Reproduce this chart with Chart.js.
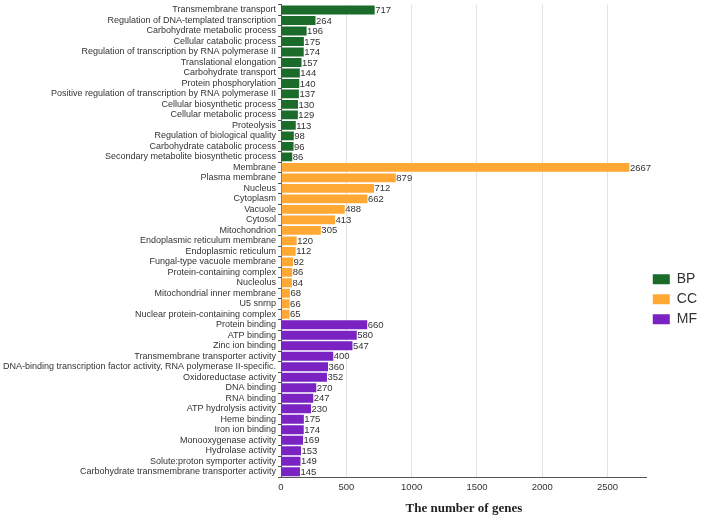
<!DOCTYPE html>
<html>
<head>
<meta charset="utf-8">
<script src="https://cdn.jsdelivr.net/npm/chart.js@4/dist/chart.umd.min.js"></script>
<style>
  body { margin: 0; background: #fff; }
  #wrap { width: 709px; height: 518px; }
</style>
</head>
<body>
<div id="wrap"><canvas id="chart"></canvas></div>
<script>
'use strict';

// GO terms, top to bottom
const bpTerms = [
  'Transmembrane transport', 'Regulation of DNA-templated transcription', 'Carbohydrate metabolic process',
  'Cellular catabolic process', 'Regulation of transcription by RNA polymerase II', 'Translational elongation',
  'Carbohydrate transport', 'Protein phosphorylation', 'Positive regulation of transcription by RNA polymerase II',
  'Cellular biosynthetic process', 'Cellular metabolic process', 'Proteolysis',
  'Regulation of biological quality', 'Carbohydrate catabolic process', 'Secondary metabolite biosynthetic process'
];
const bpCounts = [717, 264, 196, 175, 174, 157, 144, 140, 137, 130, 129, 113, 98, 96, 86];

const ccTerms = [
  'Membrane', 'Plasma membrane', 'Nucleus', 'Cytoplasm', 'Vacuole', 'Cytosol', 'Mitochondrion',
  'Endoplasmic reticulum membrane', 'Endoplasmic reticulum', 'Fungal-type vacuole membrane',
  'Protein-containing complex', 'Nucleolus', 'Mitochondrial inner membrane', 'U5 snrnp',
  'Nuclear protein-containing complex'
];
const ccCounts = [2667, 879, 712, 662, 488, 413, 305, 120, 112, 92, 86, 84, 68, 66, 65];

const mfTerms = [
  'Protein binding', 'ATP binding', 'Zinc ion binding', 'Transmembrane transporter activity',
  'DNA-binding transcription factor activity, RNA polymerase II-specific.', 'Oxidoreductase activity',
  'DNA binding', 'RNA binding', 'ATP hydrolysis activity', 'Heme binding', 'Iron ion binding',
  'Monooxygenase activity', 'Hydrolase activity', 'Solute:proton symporter activity',
  'Carbohydrate transmembrane transporter activity'
];
const mfCounts = [660, 580, 547, 400, 360, 352, 270, 247, 230, 175, 174, 169, 153, 149, 145];

const groupNames = ['BP', 'CC', 'MF'];
const groupColors = ['#1b6b2b', '#ffa834', '#7a23c2'];
const xTicks = [0, 500, 1000, 1500, 2000, 2500];

const labels = bpTerms.concat(ccTerms, mfTerms);
const nBP = bpTerms.length, nCC = ccTerms.length;

function padSeries(values, before, total) {
  const out = new Array(total).fill(null);
  values.forEach((v, i) => { out[before + i] = v; });
  return out;
}

const datasets = [bpCounts, ccCounts, mfCounts].map((vals, g) => ({
  label: groupNames[g],
  data: padSeries(vals, g === 0 ? 0 : g === 1 ? nBP : nBP + nCC, labels.length),
  backgroundColor: groupColors[g],
  borderWidth: 0,
  categoryPercentage: 0.85,
  barPercentage: 1.0,
}));

const FONT = 'Liberation Sans, Arial, sans-serif';

// numbers at the end of each bar
const valueLabels = {
  id: 'valueLabels',
  afterDatasetsDraw(chart) {
    const ctx = chart.ctx;
    ctx.save();
    ctx.font = '9.5px ' + FONT;
    ctx.fillStyle = '#333';
    ctx.textBaseline = 'middle';
    ctx.textAlign = 'left';
    chart.data.datasets.forEach((ds, di) => {
      chart.getDatasetMeta(di).data.forEach((bar, i) => {
        if (ds.data[i] == null) return;
        ctx.fillText(String(ds.data[i]), bar.x + 0.5, bar.y + 0.5);
      });
    });
    ctx.restore();
  }
};

const config = {
  type: 'bar',
  data: { labels: labels, datasets: datasets },
  options: {
    indexAxis: 'y',
    responsive: true,
    maintainAspectRatio: false,
    animation: false,
    layout: { padding: { top: 0, right: 2, left: 0, bottom: 0 } },
    scales: {
      x: {
        stacked: true,
        min: 0,
        max: 2800,
        afterBuildTicks(s) {
          s.ticks = xTicks.map(v => ({ value: v }));
        },
        afterFit(s) { s.height = 41; },
        grid: { color: '#e3e3e3', drawTicks: false },
        border: { color: '#555', width: 1 },
        ticks: {
          font: { size: 9.5, family: FONT }, color: '#333', padding: 5,
          callback: v => String(v)
        },
        title: {
          display: true,
          text: 'The number of genes',
          font: { size: 13, family: 'Liberation Serif, serif', weight: 'bold' },
          color: '#222',
          padding: { top: 6, bottom: 2 }
        }
      },
      y: {
        stacked: true,
        afterFit(s) { s.width = 281; },
        grid: { display: true, drawOnChartArea: false, color: '#555', tickLength: 3 },
        border: { color: '#555', width: 1 },
        ticks: {
          font: { size: 9, family: FONT, lineHeight: 0.6 },
          color: '#333', padding: 2, autoSkip: false
        }
      }
    },
    plugins: {
      legend: {
        position: 'right',
        align: 'center',
        title: { display: true, text: ' ', padding: { top: 66, bottom: 0 } },
        labels: {
          boxWidth: 17,
          boxHeight: 10,
          padding: 6,
          color: '#333',
          font: { size: 14, family: FONT }
        }
      },
      tooltip: { enabled: false }
    }
  },
  plugins: [valueLabels]
};

new Chart(document.getElementById('chart'), config);
</script>
</body>
</html>
